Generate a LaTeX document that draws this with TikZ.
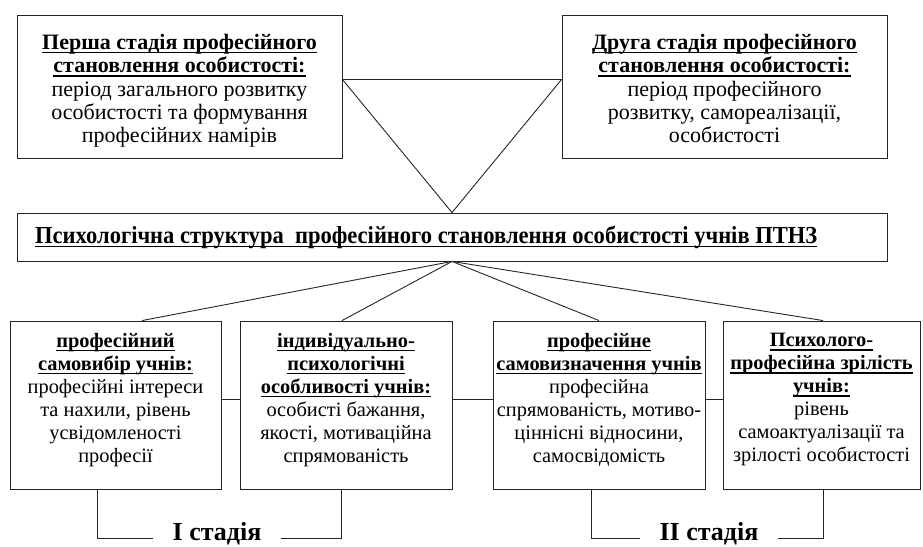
\documentclass[tikz,border=0pt]{standalone}
\usepackage{fontspec}
\setmainfont{Liberation Serif}
\newfontfamily\condfont{Liberation Serif}[FakeStretch=0.92]
\newcommand\ulin[1]{\setbox0\hbox{#1}\leavevmode\rlap{\rule[-4pt]{\wd0}{1.6pt}}\box0}
\tikzset{
  boxn/.style={draw=black!85, line width=0.9pt, inner sep=0pt},
  txt/.style={inner sep=0pt, align=center, font=\fontsize{20.4}{23}\selectfont},
  toptxt/.style={txt, font=\fontsize{22}{23.3}\selectfont},
  conn/.style={draw=black!85, line width=0.9pt},
  stagelbl/.style={inner xsep=19pt, inner ysep=0pt, font=\fontsize{26}{28}\selectfont\bfseries}
}
\begin{document}
\begin{tikzpicture}[x=1pt,y=-1pt]
\useasboundingbox (0,0) rectangle (923,546);
% top boxes
\node[boxn, minimum width=325pt, minimum height=143pt] (tl) at (179.5,86.5) {};
\node[toptxt, anchor=north] (tlt) at (179.5,34) {\textbf{\ulin{Перша стадія професійного}}\\\textbf{\ulin{становлення особистості:}}\\період загального розвитку\\особистості та формування\\професійних намірів};
\node[boxn, minimum width=325pt, minimum height=143pt] (tr) at (724.5,86.5) {};
\node[toptxt, anchor=north] (trt) at (724.5,34) {\textbf{\ulin{Друга стадія професійного}}\\\textbf{\ulin{становлення особистості:}}\\період професійного\\розвитку, самореалізації,\\особистості};
% middle box
\node[boxn, minimum width=870pt, minimum height=48pt] (mid) at (452,237) {};
\node[inner sep=0pt, anchor=west, font=\condfont\fontsize{24.5}{28}\selectfont\bfseries] (midt) at (35,237) {\ulin{Психологічна структура\ \ професійного становлення особистості учнів ПТНЗ}};
% triangle
\draw[conn] ([yshift=7pt]tl.east) -- ([yshift=7pt]tr.west) -- (mid.north) -- cycle;
% bottom boxes
\node[boxn, minimum width=211pt, minimum height=168pt] (b1) at (115.5,405) {};
\node[boxn, minimum width=212pt, minimum height=168pt] (b2) at (346,405) {};
\node[boxn, minimum width=212pt, minimum height=168pt] (b3) at (599,405) {};
\node[boxn, minimum width=197pt, minimum height=168pt] (b4) at (821.5,405) {};
\node[txt, anchor=north] (b1t) at (115.5,333) {\textbf{\ulin{професійний}}\\\textbf{\ulin{самовибір учнів:}}\\професійні інтереси\\та нахили, рівень\\усвідомленості\\професії};
\node[txt, anchor=north] (b2t) at (346,333) {\textbf{\ulin{індивідуально-}}\\\textbf{\ulin{психологічні}}\\\textbf{\ulin{особливості учнів:}}\\особисті бажання,\\якості, мотиваційна\\спрямованість};
\node[txt, anchor=north] (b3t) at (599,333) {\textbf{\ulin{професійне}}\\\textbf{\ulin{самовизначення учнів}}\\професійна\\спрямованість, мотиво-\\ціннісні відносини,\\самосвідомість};
\node[txt, anchor=north] (b4t) at (821.5,333) {\textbf{\ulin{Психолого-}}\\\textbf{\ulin{професійна зрілість}}\\\textbf{\ulin{учнів:}}\\рівень\\самоактуалізації та\\зрілості особистості};
% fan
\draw[conn] (mid.south) -- ([xshift=26.5pt]b1.north);
\draw[conn] (mid.south) -- ([xshift=-4pt]b2.north);
\draw[conn] (mid.south) -- (b3.north);
\draw[conn] (mid.south) -- ([xshift=1.5pt]b4.north);
% horizontal links
\draw[conn] ([yshift=6pt]b1.east) -- ([yshift=6pt]b2.west);
\draw[conn] ([yshift=6pt]b2.east) -- ([yshift=6pt]b3.west);
\draw[conn] ([yshift=6pt]b3.east) -- ([yshift=6pt]b4.west);
% stage labels
\node[stagelbl, anchor=mid] (s1) at (217,538) {І стадія};
\node[stagelbl, anchor=mid] (s2) at (709,538) {ІІ стадія};
\draw[conn] ([xshift=-18.5pt]b1.south) |- (s1.mid west);
\draw[conn] (s1.mid east) -| ([xshift=-5pt]b2.south);
\draw[conn] ([xshift=-8pt]b3.south) |- (s2.mid west);
\draw[conn] (s2.mid east) -| ([xshift=1.5pt]b4.south);
\end{tikzpicture}
\end{document}
